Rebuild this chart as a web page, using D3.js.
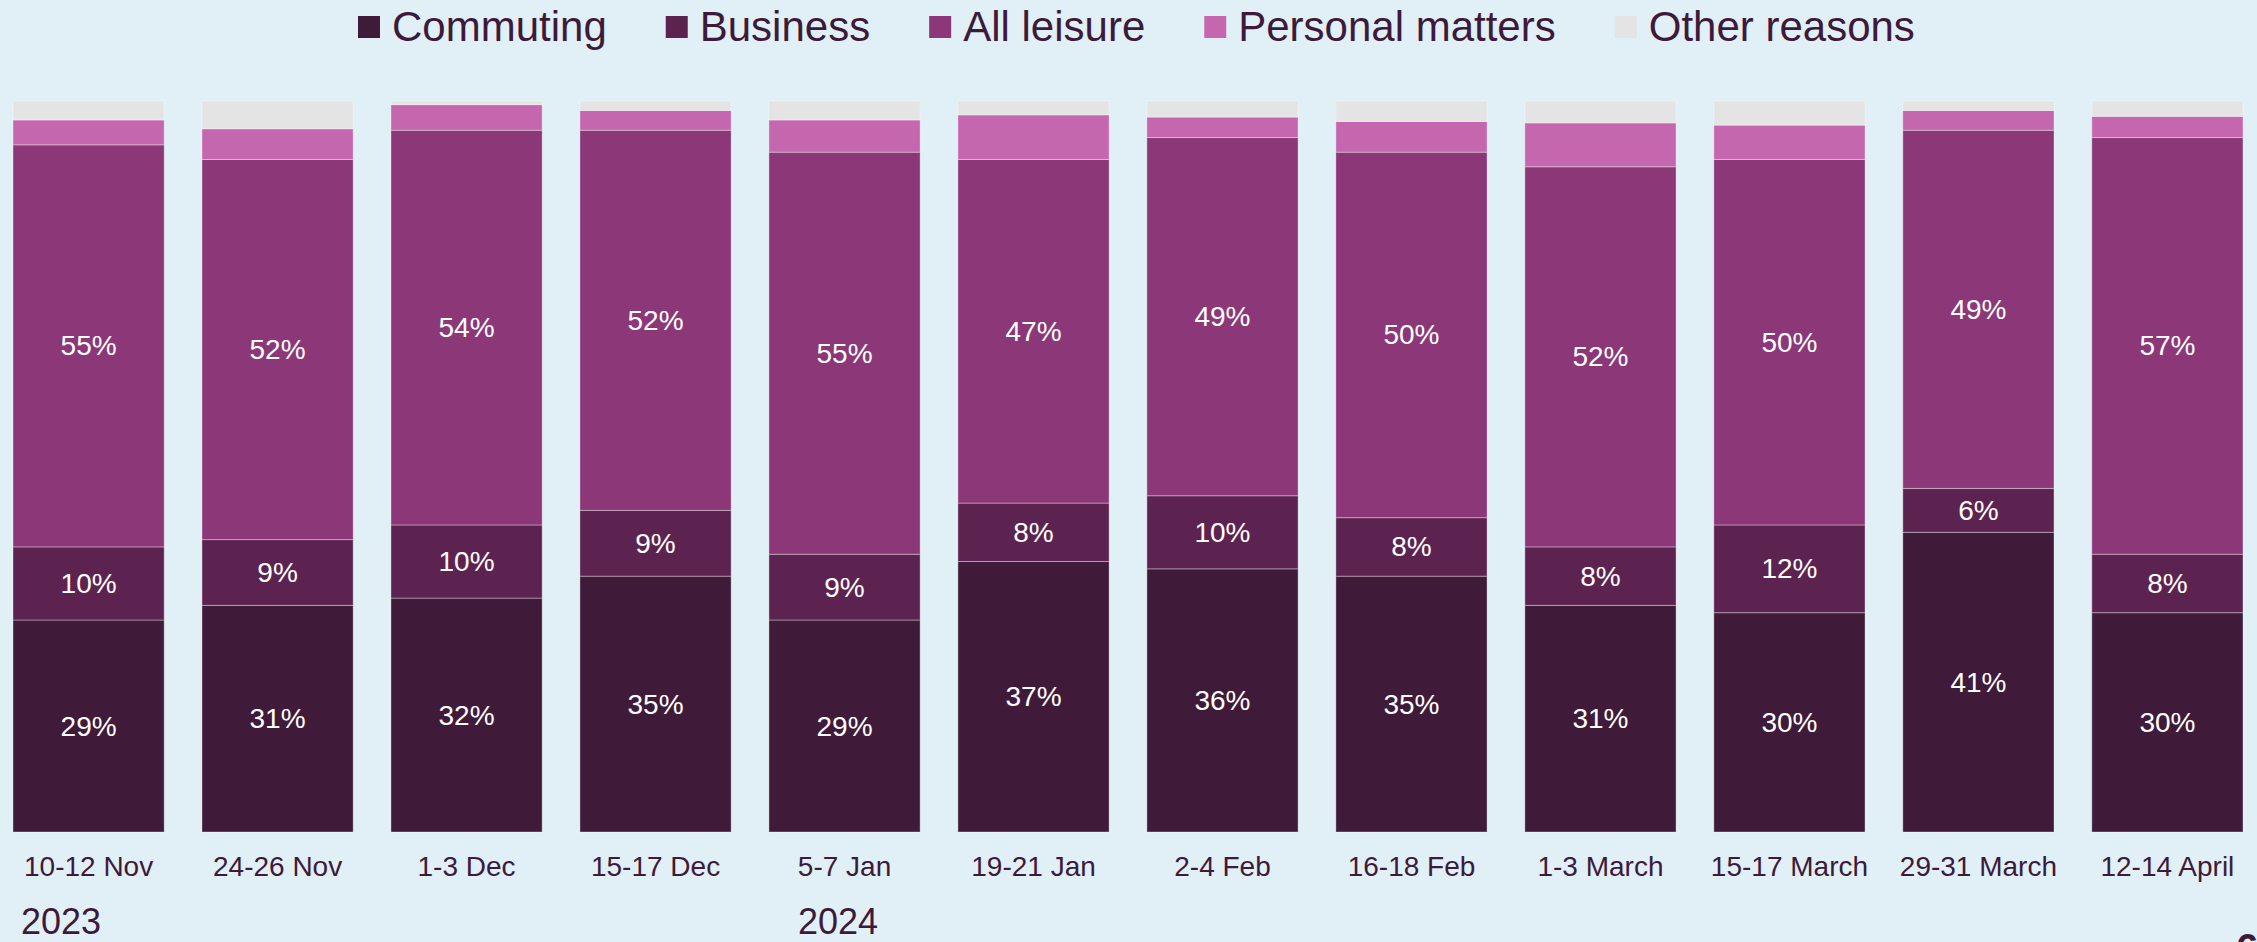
<!DOCTYPE html>
<html>
<head>
<meta charset="utf-8">
<script src="https://cdn.jsdelivr.net/npm/d3@7"></script>
<style>
  html, body { margin: 0; padding: 0; background: #E0F0F6; }
  svg { display: block; }
  text { font-family: "Liberation Sans", Arial, sans-serif; }
</style>
</head>
<body>
<svg id="chart" width="2257" height="942"></svg>
<script>
// Weekend survey: reasons for travel, share of trips (%)
const categories = ["10-12 Nov", "24-26 Nov", "1-3 Dec", "15-17 Dec", "5-7 Jan", "19-21 Jan",
                    "2-4 Feb", "16-18 Feb", "1-3 March", "15-17 March", "29-31 March", "12-14 April"];
const commuting = [29, 31, 32, 35, 29, 37, 36, 35, 31, 30, 41, 30];
const business  = [10,  9, 10,  9,  9,  8, 10,  8,  8, 12,  6,  8];
const leisure   = [55, 52, 54, 52, 55, 47, 49, 50, 52, 50, 49, 57];
const personal  = [3.4, 4.2, 3.5, 2.7, 4.4, 6.1, 2.8, 4.2, 6.0, 4.7, 2.7, 2.9];
const other     = [2.6, 3.8, 0.5, 1.3, 2.6, 1.9, 2.2, 2.8, 3.0, 3.3, 1.3, 2.1];

const seriesNames = ["Commuting", "Business", "All leisure", "Personal matters", "Other reasons"];
const seriesColors = ["#3F1A39", "#5D2350", "#8B3778", "#C467AF", "#E4E4E4"];
const labelledSeries = ["Commuting", "Business", "All leisure"];

const yearLabels = ["2023", "2024"];
const yearStarts = ["10-12 Nov", "5-7 Jan"];

const seriesValues = [commuting, business, leisure, personal, other];
const rows = categories.map((c, i) => {
  const r = { category: c };
  seriesNames.forEach((s, k) => { r[s] = seriesValues[k][i]; });
  return r;
});

const textColor = "#3E1A3A";
const svg = d3.select("#chart");

const x = d3.scaleBand().domain(categories).range([13, 2243]).paddingInner(0.2).paddingOuter(0);
const y = d3.scaleLinear().domain([0, 100]).range([832, 101]);
const color = d3.scaleOrdinal().domain(seriesNames).range(seriesColors);

const stacked = d3.stack().keys(seriesNames)(rows);

// stacked bars
const layers = svg.append("g").selectAll("g")
  .data(stacked)
  .join("g")
  .attr("fill", d => color(d.key));

layers.selectAll("rect")
  .data(d => d.map(v => Object.assign(v, { key: d.key })))
  .join("rect")
  .attr("x", d => x(d.data.category))
  .attr("width", x.bandwidth())
  .attr("y", d => y(d[1]))
  .attr("height", d => y(d[0]) - y(d[1]))
  .attr("stroke", "rgba(255,255,255,0.35)")
  .attr("stroke-width", 1);

// value labels inside the larger segments
svg.append("g").selectAll("g")
  .data(stacked.filter(s => labelledSeries.includes(s.key)))
  .join("g")
  .selectAll("text")
  .data(d => d)
  .join("text")
  .attr("x", d => x(d.data.category) + x.bandwidth() / 2)
  .attr("y", d => (y(d[0]) + y(d[1])) / 2)
  .attr("text-anchor", "middle")
  .attr("dominant-baseline", "central")
  .attr("fill", "#FFFFFF")
  .attr("font-size", 28)
  .text(d => Math.round(d[1] - d[0]) + "%");

// category axis
const xAxis = svg.append("g")
  .attr("transform", "translate(0,832)")
  .call(d3.axisBottom(x).tickSize(0).tickPadding(24));
xAxis.select(".domain").remove();
xAxis.selectAll("text")
  .attr("font-size", 28)
  .attr("fill", textColor)
  .attr("font-family", "\"Liberation Sans\", Arial, sans-serif");

// year markers
svg.append("g").selectAll("text")
  .data(yearLabels)
  .join("text")
  .attr("x", (d, i) => x(yearStarts[i]) + (i === 0 ? 8 : 29))
  .attr("y", 934)
  .attr("font-size", 36)
  .attr("fill", textColor)
  .text(d => d);

// page number, clipped at the bottom edge
svg.append("text")
  .attr("x", 2236)
  .attr("y", 962)
  .attr("font-size", 40)
  .attr("font-weight", "bold")
  .attr("fill", textColor)
  .text("6");

// legend
const legend = svg.append("g");
let lx = 358;
seriesNames.forEach(name => {
  const g = legend.append("g");
  g.append("rect")
    .attr("x", lx).attr("y", 16)
    .attr("width", 22).attr("height", 22)
    .attr("fill", color(name));
  const t = g.append("text")
    .attr("x", lx + 34).attr("y", 41)
    .attr("font-size", 42)
    .attr("fill", textColor)
    .text(name);
  lx = lx + 34 + t.node().getComputedTextLength() + 59;
});
</script>
</body>
</html>
